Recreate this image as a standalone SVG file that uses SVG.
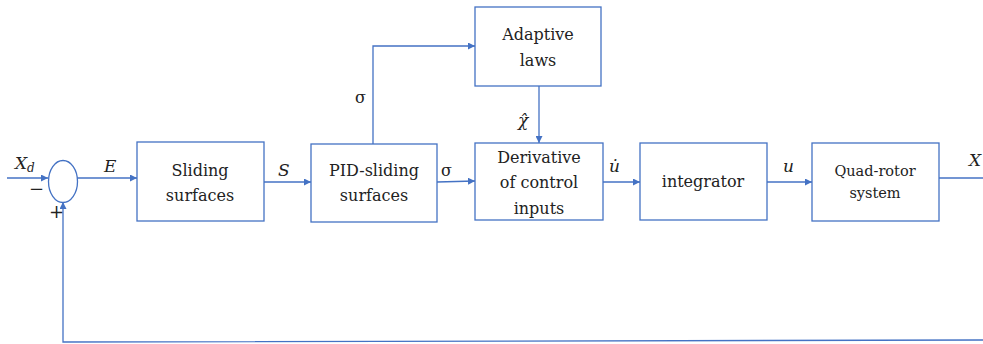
<svg xmlns="http://www.w3.org/2000/svg" width="983" height="344" viewBox="0 0 983 344">
<style>
.box{fill:#fff;stroke:#4472C4;stroke-width:1.3}
.ln{fill:none;stroke:#4472C4;stroke-width:1.3}
text{fill:#222;font-family:'DejaVu Serif','Liberation Serif',serif}
.t{font-size:16px;text-anchor:middle}
.s{font-size:14.5px}
.m{font-size:17px;font-style:italic}
.g{font-size:16px}
</style>
<defs>
<marker id="ah" viewBox="0 0 10 10" refX="10" refY="5" markerWidth="7" markerHeight="7" markerUnits="userSpaceOnUse" orient="auto"><path d="M0,0 L10,5 L0,10 z" fill="#4472C4"/></marker>
</defs>
<rect width="983" height="344" fill="#fff"/>
<g id="connectors">
<path class="ln" d="M7,178 L48,178" marker-end="url(#ah)"/>
<path class="ln" d="M77,178 L137,178" marker-end="url(#ah)"/>
<path class="ln" d="M264,182 L311,182" marker-end="url(#ah)"/>
<path class="ln" d="M437,182 L475,181" marker-end="url(#ah)"/>
<path class="ln" d="M603,182 L640,182" marker-end="url(#ah)"/>
<path class="ln" d="M767,182 L812,182" marker-end="url(#ah)"/>
<path class="ln" d="M939,178 L983,178"/>
<path class="ln" d="M373,144 L373,46 L475,46" marker-end="url(#ah)"/>
<path class="ln" d="M539,86 L539,143" marker-end="url(#ah)"/>
<path class="ln" d="M983,340 L63,342 L63,202" marker-end="url(#ah)"/>
</g>
<g id="sum">
<ellipse cx="63" cy="181.5" rx="14.5" ry="21" class="box"/>
</g>
<g id="sliding">
<rect x="137" y="142" width="127" height="79" class="box"/>
<text x="200" y="176" class="t">Sliding</text>
<text x="200" y="201" class="t">surfaces</text>
</g>
<g id="pid">
<rect x="311" y="144" width="126" height="78" class="box"/>
<text x="374" y="176" class="t">PID-sliding</text>
<text x="374" y="201" class="t">surfaces</text>
</g>
<g id="adaptive">
<rect x="475" y="7" width="126" height="79" class="box"/>
<text x="538" y="40" class="t">Adaptive</text>
<text x="538" y="66" class="t">laws</text>
</g>
<g id="derivative">
<rect x="475" y="143" width="128" height="77" class="box"/>
<text x="539" y="163" class="t">Derivative</text>
<text x="539" y="188" class="t">of control</text>
<text x="539" y="214" class="t">inputs</text>
</g>
<g id="integrator">
<rect x="640" y="143" width="127" height="77" class="box"/>
<text x="703" y="187" class="t">integrator</text>
</g>
<g id="quadrotor">
<rect x="812" y="143" width="127" height="78" class="box"/>
<text x="875" y="176" class="t s">Quad-rotor</text>
<text x="875" y="198" class="t s">system</text>
</g>
<g id="labels">
<text x="15" y="169" class="m">X<tspan font-size="12" dy="3">d</tspan></text>
<text x="29" y="195" font-size="18">−</text>
<text x="49" y="218" font-size="18">+</text>
<text x="104" y="172" class="m">E</text>
<text x="278" y="176" class="m">S</text>
<text x="441" y="176" class="g">σ</text>
<text x="355" y="103" class="g">σ</text>
<text x="518" y="126" class="m">χ̂</text>
<text x="609" y="172" class="m">u̇</text>
<text x="783" y="172" class="m">u</text>
<text x="969" y="166" class="m">X</text>
</g>
</svg>
